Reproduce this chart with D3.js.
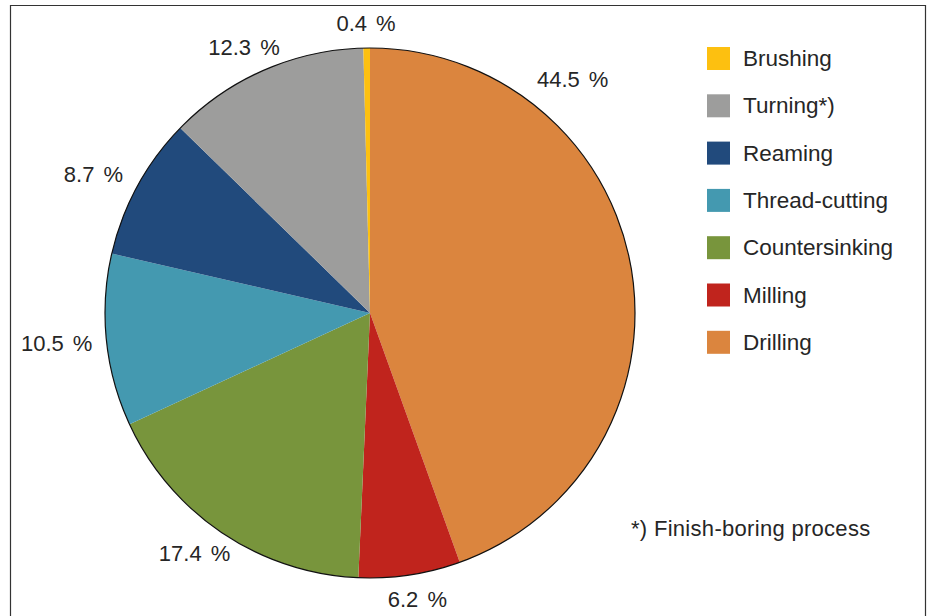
<!DOCTYPE html>
<html lang="en">
<head>
<meta charset="utf-8">
<title>Share of machining processes</title>
<style>
  body { margin: 0; background: #fff; }
  svg { display: block; font-family: "Liberation Sans", Arial, Helvetica, sans-serif; }
  .lbl { font-size: 22px; fill: #262626; word-spacing: 3px; }
  .leg text { font-size: 22.5px; fill: #262626; }
  .note { font-size: 22px; fill: #262626; letter-spacing: 0.3px; }
</style>
</head>
<body>
<script src="https://cdnjs.cloudflare.com/ajax/libs/d3/7.8.5/d3.min.js"></script>
<script>
// slices, clockwise from 12 o'clock
var categories = ["Drilling", "Milling", "Countersinking", "Thread-cutting", "Reaming", "Turning*)", "Brushing"];
var shares = [44.5, 6.2, 17.4, 10.5, 8.7, 12.3, 0.4];
var colors = ["#db853e", "#c0241d", "#78953c", "#4499b0", "#214a7c", "#9d9d9c", "#fdc010"];
var footnote = "*) Finish-boring process";

var width = 928, height = 616;
var cx = 370, cy = 313, radius = 265;

var data = categories.map(function(c, i) {
  return { name: c, value: shares[i], color: colors[i] };
});

var svg = d3.select("body").append("svg")
  .attr("width", width)
  .attr("height", height);

// frame (bottom edge runs off the picture)
svg.append("path")
  .attr("d", "M10.5," + height + "V5.5H925.5V" + height)
  .attr("fill", "none")
  .attr("stroke", "#333")
  .attr("stroke-width", 1.2);

var pie = d3.pie().sort(null).value(function(d) { return d.value; });
var arc = d3.arc().innerRadius(0).outerRadius(radius);
var arcs = pie(data);

var g = svg.append("g").attr("transform", "translate(" + cx + "," + cy + ")");

g.selectAll("path.slice")
  .data(arcs)
  .enter().append("path")
  .attr("class", "slice")
  .attr("d", arc)
  .attr("fill", function(d) { return d.data.color; });

g.append("circle")
  .attr("r", radius)
  .attr("fill", "none")
  .attr("stroke", "#111")
  .attr("stroke-width", 1.2);

// percentage labels around the pie
var rx = 315, ry = 290;
var fmt = d3.format(".1f");
g.selectAll("text.lbl")
  .data(arcs)
  .enter().append("text")
  .attr("class", "lbl")
  .attr("text-anchor", "middle")
  .attr("dominant-baseline", "central")
  .attr("transform", function(d, i) {
    // the big slice has its label pushed up towards the top
    var a = i === 0 ? d.startAngle + 0.25 * (d.endAngle - d.startAngle)
                    : (d.startAngle + d.endAngle) / 2;
    var dy = i === 0 ? -12 : 0;
    return "translate(" + (rx * Math.sin(a)) + "," + (-ry * Math.cos(a) + dy) + ")";
  })
  .text(function(d) { return fmt(d.value) + " %"; });

// legend, reverse order of the slices
var legendData = data.slice().reverse();
var leg = svg.append("g").attr("class", "leg")
  .attr("transform", "translate(707,47)");

var item = leg.selectAll("g")
  .data(legendData)
  .enter().append("g")
  .attr("transform", function(d, i) { return "translate(0," + (i * 47.3) + ")"; });

item.append("rect")
  .attr("width", 23)
  .attr("height", 23)
  .attr("fill", function(d) { return d.color; });

item.append("text")
  .attr("x", 36)
  .attr("y", 11.5)
  .attr("dominant-baseline", "central")
  .text(function(d) { return d.name; });

svg.append("text")
  .attr("class", "note")
  .attr("x", 631)
  .attr("y", 536)
  .text(footnote);
</script>
</body>
</html>
